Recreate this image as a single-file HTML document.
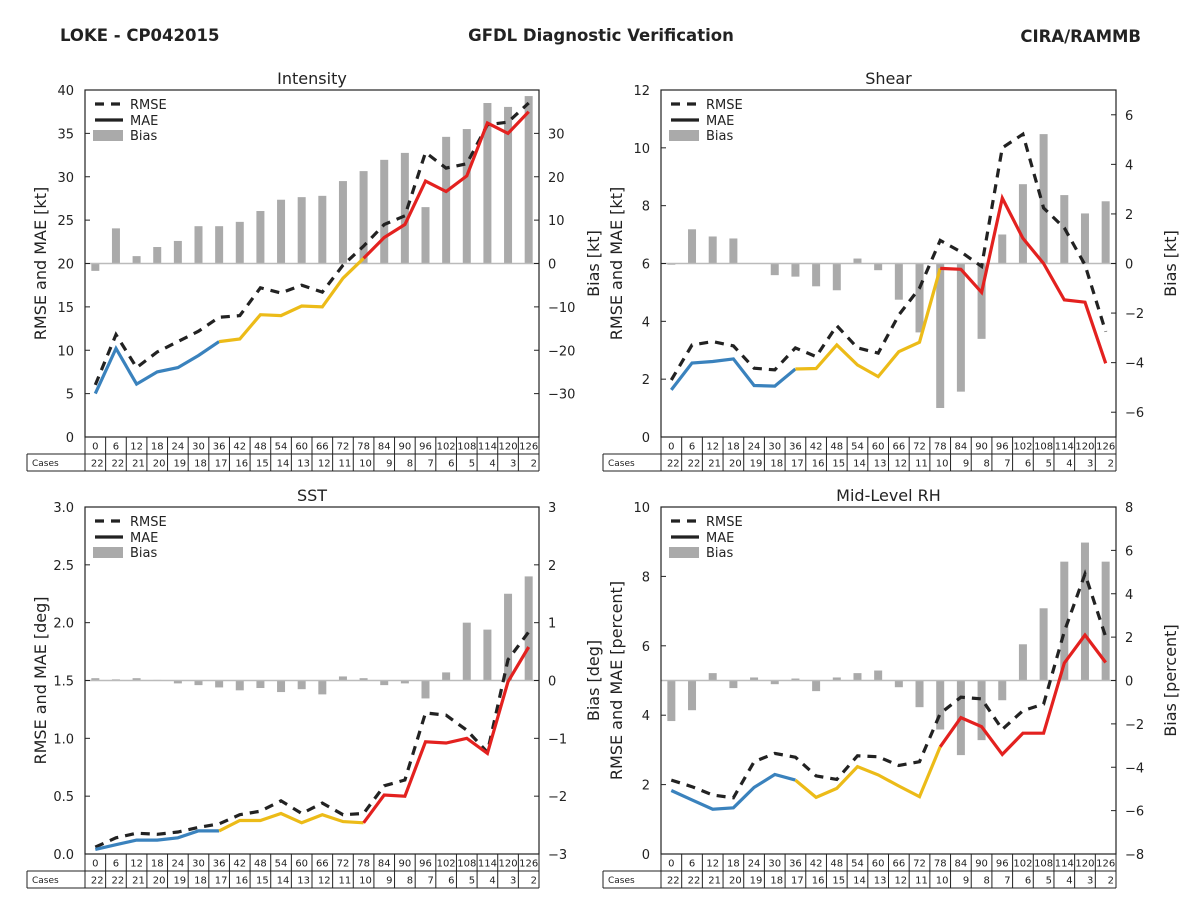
<!DOCTYPE html>
<html><head><meta charset="utf-8">
<style>
html,body{margin:0;padding:0;background:#fff;}
svg{display:block;font-family:"DejaVu Sans","Liberation Sans",sans-serif;}
</style></head>
<body>
<svg id="fig" width="1200" height="900" viewBox="0 0 1200 900" xmlns="http://www.w3.org/2000/svg">
<text x="60" y="41" font-size="16.5" font-weight="bold" fill="#222">LOKE - CP042015</text>
<text x="601" y="41" font-size="16.5" font-weight="bold" fill="#222" text-anchor="middle">GFDL Diagnostic Verification</text>
<text x="1141" y="42" font-size="16.5" font-weight="bold" fill="#222" text-anchor="end">CIRA/RAMMB</text>
</svg>
<script>
const leads = [0,6,12,18,24,30,36,42,48,54,60,66,72,78,84,90,96,102,108,114,120,126];
const cases = [22,22,21,20,19,18,17,16,15,14,13,12,11,10,9,8,7,6,5,4,3,2];

const intRmse = [6,11.8,8,9.8,11,12.2,13.8,14,17.2,16.6,17.5,16.7,19.8,22,24.5,25.5,32.8,31,31.5,36,36.3,38.5];
const intMae  = [5,10.2,6.1,7.5,8,9.4,11,11.3,14.1,14,15.1,15,18.3,20.6,23,24.5,29.5,28.3,30.1,36.2,35,37.5];
const intBias = [-1.7,8.1,1.7,3.8,5.2,8.6,8.6,9.6,12.1,14.7,15.3,15.6,19,21.3,23.9,25.5,13,29.2,31,37,36.1,38.6];

const shrRmse = [1.97,3.18,3.3,3.15,2.38,2.32,3.08,2.78,3.85,3.08,2.9,4.22,5.15,6.8,6.4,5.9,10.0,10.47,7.92,7.23,5.95,3.64];
const shrMae  = [1.63,2.56,2.61,2.7,1.78,1.76,2.35,2.37,3.18,2.49,2.09,2.95,3.28,5.83,5.8,5.0,8.26,6.87,6.0,4.74,4.66,2.55];
const shrBias = [-0.05,1.38,1.09,1.01,0.02,-0.47,-0.53,-0.92,-1.08,0.2,-0.27,-1.46,-2.78,-5.83,-5.17,-3.04,1.17,3.2,5.22,2.76,2.02,2.51];

const sstRmse = [0.06,0.14,0.18,0.17,0.19,0.23,0.26,0.34,0.37,0.46,0.35,0.44,0.34,0.35,0.59,0.64,1.22,1.2,1.07,0.88,1.68,1.92];
const sstMae  = [0.04,0.08,0.12,0.12,0.14,0.2,0.2,0.29,0.29,0.35,0.27,0.34,0.28,0.27,0.51,0.5,0.97,0.96,1.0,0.87,1.49,1.79];
const sstBias = [0.04,0.02,0.04,0.01,-0.05,-0.08,-0.12,-0.17,-0.13,-0.2,-0.15,-0.24,0.07,0.04,-0.08,-0.05,-0.31,0.14,1.0,0.88,1.5,1.8];

const rhRmse = [2.13,1.94,1.7,1.62,2.66,2.9,2.79,2.25,2.15,2.83,2.8,2.55,2.66,4.05,4.52,4.47,3.59,4.13,4.32,6.41,8.07,6.26];
const rhMae  = [1.83,1.56,1.29,1.33,1.92,2.29,2.13,1.63,1.89,2.52,2.28,1.96,1.65,3.09,3.93,3.67,2.87,3.48,3.48,5.5,6.31,5.52];
const rhBias = [-1.87,-1.37,0.34,-0.35,0.14,-0.17,0.09,-0.49,0.14,0.34,0.46,-0.31,-1.23,-2.26,-3.44,-2.75,-0.91,1.67,3.33,5.48,6.36,5.48];

const intLeftTicks = [0,5,10,15,20,25,30,35,40];
const intRightTicks = [-30,-20,-10,0,10,20,30];
const shrLeftTicks = [0,2,4,6,8,10,12];
const shrRightTicks = [-6,-4,-2,0,2,4,6];
const sstLeftTicks = ["0.0","0.5","1.0","1.5","2.0","2.5","3.0"];
const sstRightTicks = [-3,-2,-1,0,1,2,3];
const rhLeftTicks = [0,2,4,6,8,10];
const rhRightTicks = [-8,-6,-4,-2,0,2,4,6,8];

const NS = "http://www.w3.org/2000/svg";
const fig = document.getElementById('fig');
function mk(tag, attrs, parent){
  const e = document.createElementNS(NS, tag);
  for (const k in attrs) e.setAttribute(k, attrs[k]);
  (parent||fig).appendChild(e);
  return e;
}
const C_BLUE="#3a82bd", C_YEL="#ecbb18", C_RED="#e3211f";
function fmt(v){ return (typeof v==='number' && v<0) ? '\u2212'+Math.abs(v) : String(v); }

function panel(cfg){
  const {key,x0,x1,y0,y1,title,unit,lmax,rmin,rmax,lticks,rticks,rmse,mae,bias} = cfg;
  const g = mk('g', {});
  
  
  const n = leads.length;
  const cw = (x1-x0)/n;
  const xs = i => x0 + cw*(i+0.5);
  const yl = v => y1 - (v/lmax)*(y1-y0);
  const yr = v => y1 - ((v-rmin)/(rmax-rmin))*(y1-y0);
  const bw = 8;
  bias.forEach((b,i)=>{
    const ya = yr(0), yb = yr(b);
    const r = mk('rect', {x:xs(i)-bw/2, y:Math.min(ya,yb), width:bw, height:Math.max(0.8,Math.abs(yb-ya)), fill:'#aaaaaa'}, g);
    
    
  });
  const zl = mk('line', {x1:x0, x2:x1, y1:yr(0), y2:yr(0), stroke:'#bbb', 'stroke-width':1.5}, g);
  
  
  const rp = rmse.map((v,i)=>xs(i).toFixed(1)+','+yl(v).toFixed(1)).join(' ');
  const rl = mk('polyline', {points:rp, fill:'none', stroke:'#222', 'stroke-width':3.2, 'stroke-dasharray':'9,7'}, g);
  
  
  const segs = [[0,6,C_BLUE],[6,13,C_YEL],[13,n-1,C_RED]];
  segs.forEach(([a,b,c])=>{
    const pts=[]; for(let i=a;i<=b;i++) pts.push(xs(i).toFixed(1)+','+yl(mae[i]).toFixed(1));
    const pl = mk('polyline', {points:pts.join(' '), fill:'none', stroke:c, 'stroke-width':3.2, 'stroke-linejoin':'miter'}, g);
    
    
  });
  const fr = mk('rect', {x:x0, y:y0, width:x1-x0, height:y1-y0, fill:'none', stroke:'#222', 'stroke-width':1.2}, g);
  
  
  lticks.forEach(t=>{
    const v = parseFloat(t), y = yl(v);
    mk('line', {x1:x0, x2:x0+5, y1:y, y2:y, stroke:'#222', 'stroke-width':1}, g);
    const tx = mk('text', {x:x0-11, y:y+5, 'font-size':13, 'text-anchor':'end', fill:'#222'}, g);
    tx.textContent = String(t);
    
    
  });
  rticks.forEach(t=>{
    const y = yr(t);
    mk('line', {x1:x1-5, x2:x1, y1:y, y2:y, stroke:'#222', 'stroke-width':1}, g);
    const tx = mk('text', {x:x1+9, y:y+5, 'font-size':13, 'text-anchor':'start', fill:'#222'}, g);
    tx.textContent = fmt(t);
    
    
  });
  const ti = mk('text', {x:(x0+x1)/2, y:y0-6, 'font-size':16, 'text-anchor':'middle', fill:'#222'}, g);
  ti.textContent = title;
  
  
  const lx = x0-39, ly = (y0+y1)/2;
  const la = mk('text', {x:lx, y:ly, 'font-size':16, 'text-anchor':'middle', fill:'#222', transform:`rotate(-90 ${lx} ${ly})`}, g);
  la.textContent = 'RMSE and MAE ['+unit+']';
  
  
  const rx = x1+60;
  const ra = mk('text', {x:rx, y:ly, 'font-size':16, 'text-anchor':'middle', fill:'#222', transform:`rotate(-90 ${rx} ${ly})`}, g);
  ra.textContent = 'Bias ['+unit+']';
  
  
  const lg = mk('g', {}, g);
  
  
  const lgx = x0+10;
  mk('line', {x1:lgx, x2:lgx+28, y1:y0+14, y2:y0+14, stroke:'#222', 'stroke-width':3.2, 'stroke-dasharray':'9,7'}, lg);
  mk('line', {x1:lgx, x2:lgx+28, y1:y0+30, y2:y0+30, stroke:'#222', 'stroke-width':3.2}, lg);
  mk('rect', {x:lgx-2, y:y0+40, width:30, height:11, fill:'#aaa'}, lg);
  [['RMSE',19],['MAE',35],['Bias',50]].forEach(([s,dy])=>{
    const t = mk('text', {x:lgx+35, y:y0+dy, 'font-size':13, fill:'#222'}, lg);
    t.textContent = s;
    
    
  });
  const tb = mk('g', {}, g);
  
  
  const r1 = y1, r2 = y1+17, r3 = y1+34, lx0 = x0-58;
  mk('line', {x1:x0, x2:x1, y1:r1, y2:r1, stroke:'#222'}, tb);
  mk('line', {x1:lx0, x2:x1, y1:r2, y2:r2, stroke:'#222'}, tb);
  mk('line', {x1:lx0, x2:x1, y1:r3, y2:r3, stroke:'#222'}, tb);
  mk('line', {x1:lx0, x2:lx0, y1:r2, y2:r3, stroke:'#222'}, tb);
  for (let i=0;i<=n;i++){
    const xx = x0+cw*i;
    mk('line', {x1:xx, x2:xx, y1:r1, y2:r3, stroke:'#222'}, tb);
  }
  const cl = mk('text', {x:lx0+5, y:r2+12, 'font-size':9, fill:'#222'}, tb);
  cl.textContent = 'Cases';
  
  
  leads.forEach((l,i)=>{
    const t = mk('text', {x:xs(i), y:r1+12.5, 'font-size':10, 'text-anchor':'middle', fill:'#222'}, tb);
    t.textContent = l;
    
    
    const c = mk('text', {x:x0+cw*(i+1)-2, y:r2+12.5, 'font-size':10, 'text-anchor':'end', fill:'#222'}, tb);
    c.textContent = cases[i];
    
    
  });
}

panel({key:'intensity', x0:85, x1:539, y0:90, y1:437, title:'Intensity', unit:'kt', lmax:40, rmin:-40, rmax:40, lticks:intLeftTicks, rticks:intRightTicks, rmse:intRmse, mae:intMae, bias:intBias});
panel({key:'shear', x0:661, x1:1116, y0:90, y1:437, title:'Shear', unit:'kt', lmax:12, rmin:-7, rmax:7, lticks:shrLeftTicks, rticks:shrRightTicks, rmse:shrRmse, mae:shrMae, bias:shrBias});
panel({key:'sst', x0:85, x1:539, y0:507, y1:854, title:'SST', unit:'deg', lmax:3, rmin:-3, rmax:3, lticks:sstLeftTicks, rticks:sstRightTicks, rmse:sstRmse, mae:sstMae, bias:sstBias});
panel({key:'rh', x0:661, x1:1116, y0:507, y1:854, title:'Mid-Level RH', unit:'percent', lmax:10, rmin:-8, rmax:8, lticks:rhLeftTicks, rticks:rhRightTicks, rmse:rhRmse, mae:rhMae, bias:rhBias});
</script>
</body></html>
